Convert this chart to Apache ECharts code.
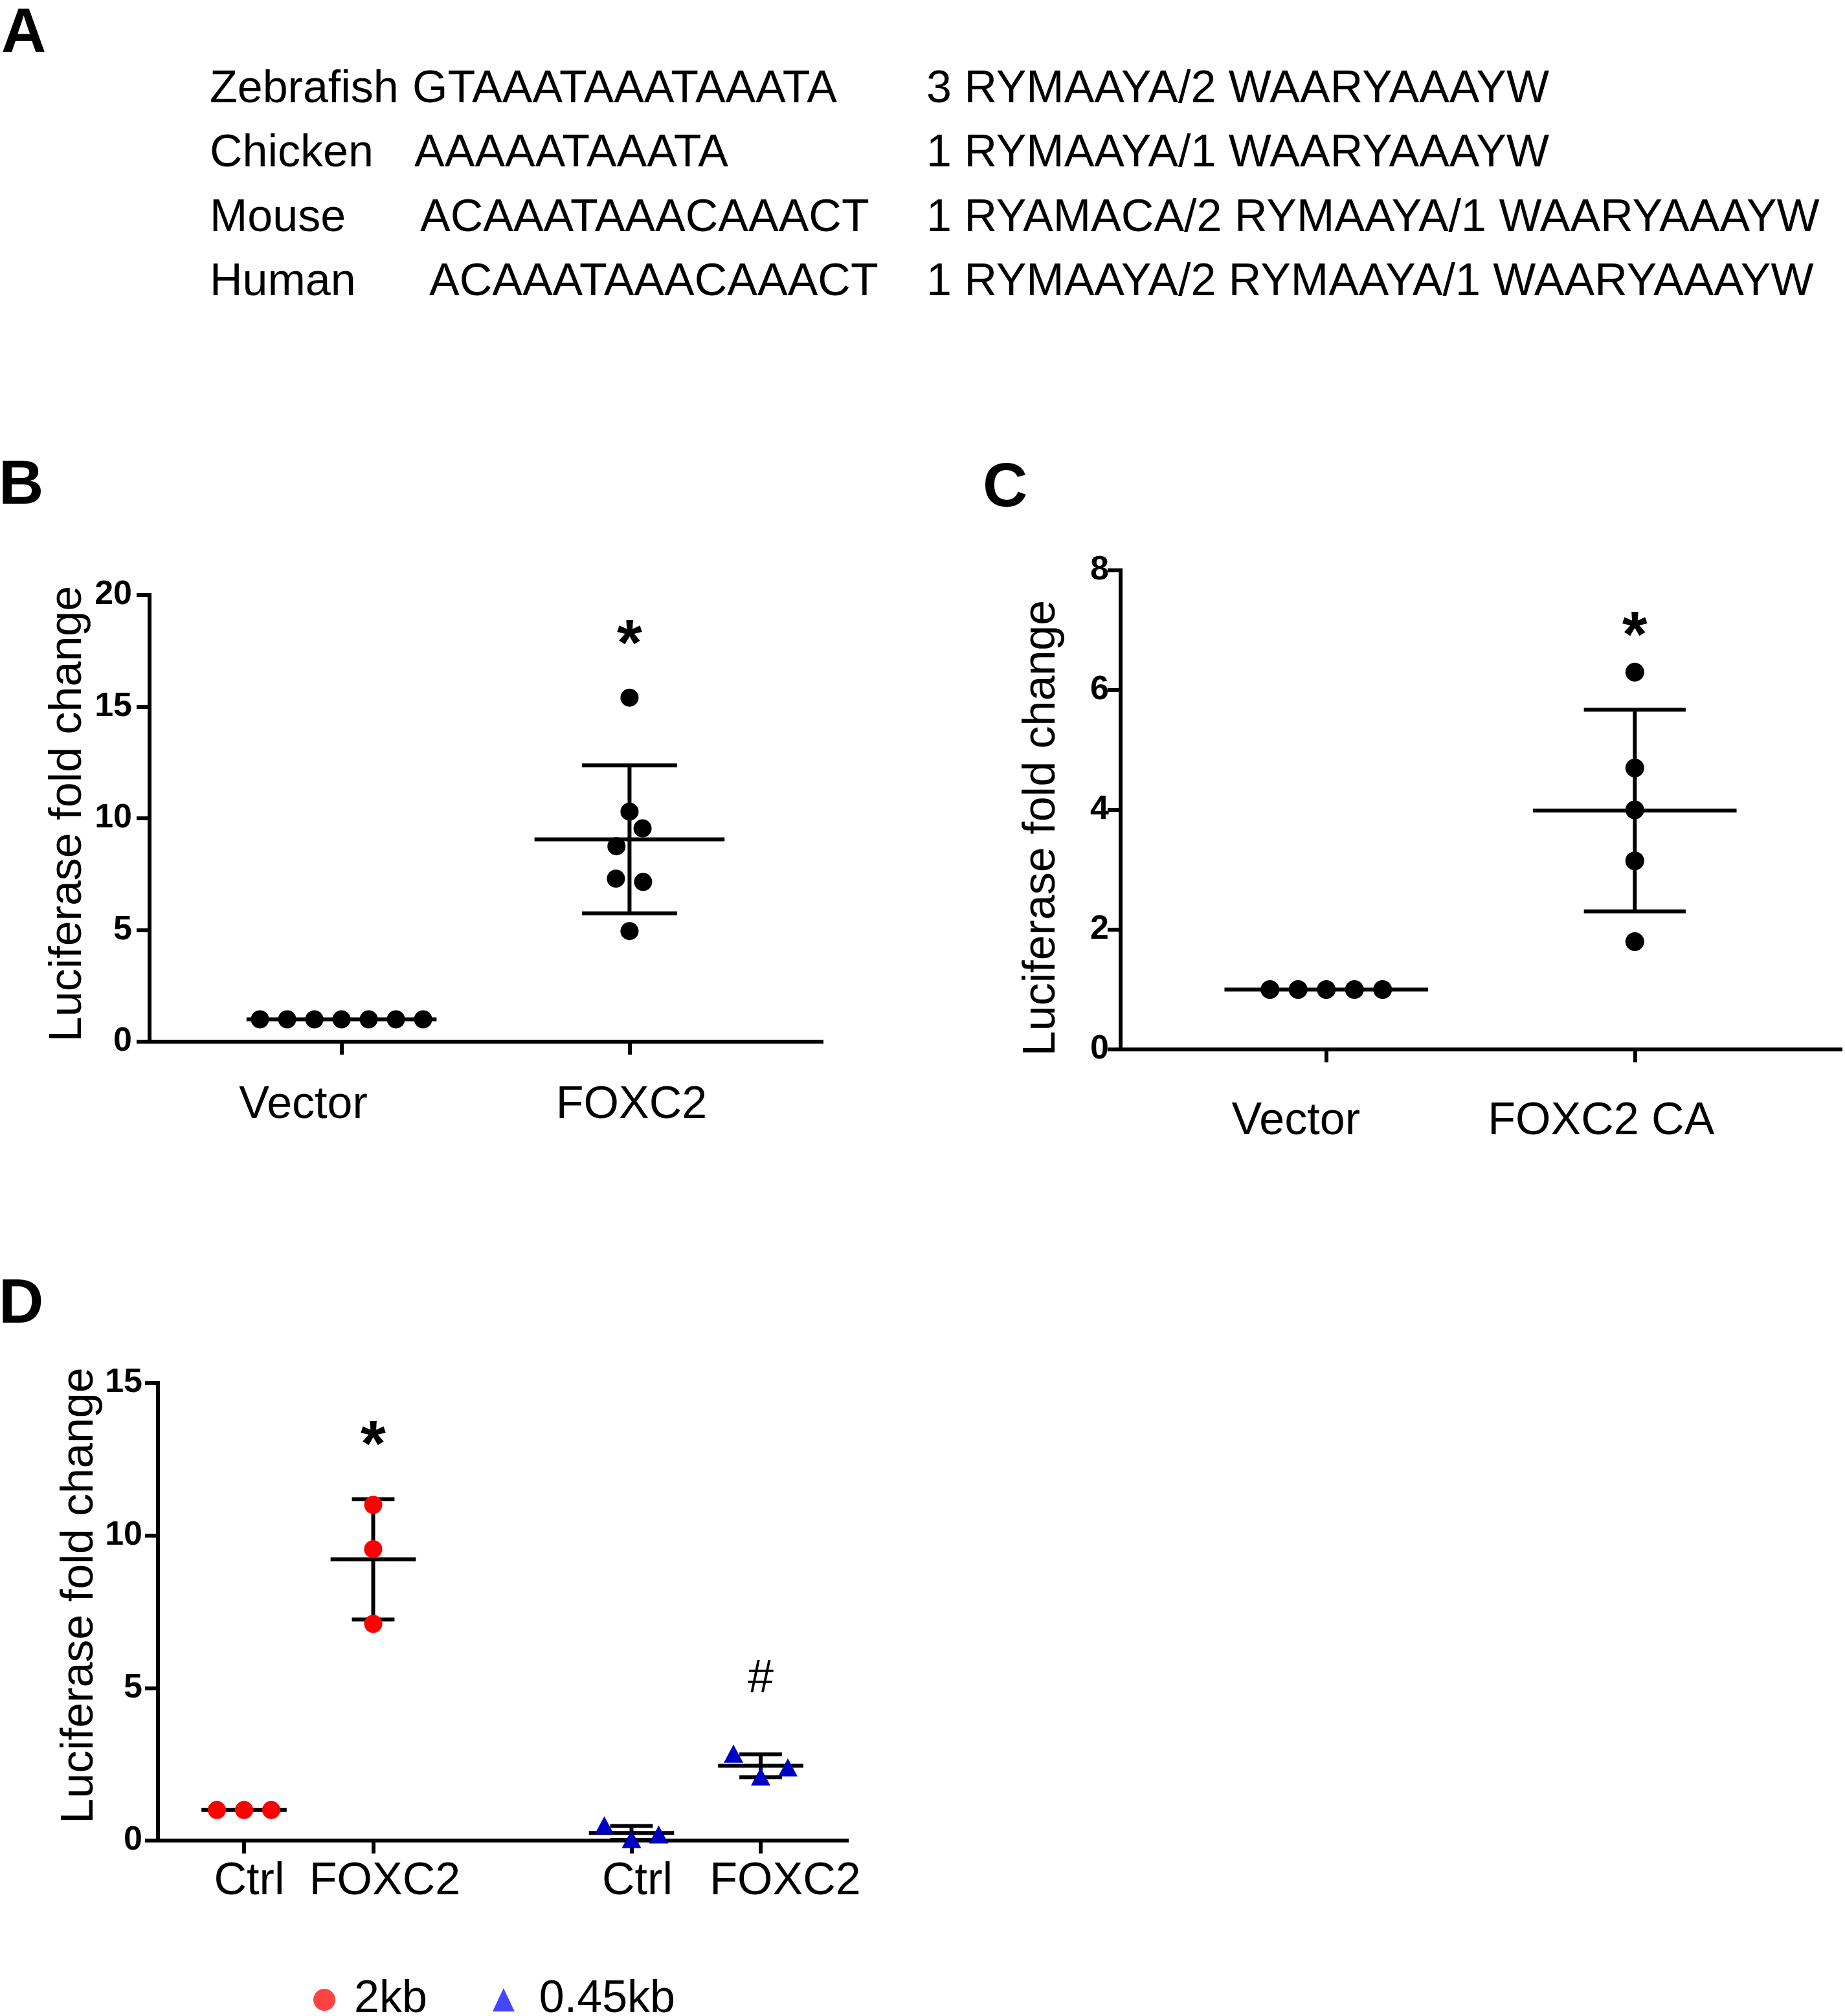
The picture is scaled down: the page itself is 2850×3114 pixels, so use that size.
<!DOCTYPE html>
<html>
<head>
<meta charset="utf-8">
<script src="https://cdn.jsdelivr.net/npm/echarts@6/dist/echarts.min.js"></script>
<style>
  html, body { margin: 0; padding: 0; background: #fff; }
  #chart { width: 2850px; height: 3114px; }
</style>
</head>
<body>
<div id="chart"></div>
<script>
// ---- panel A: sequence table
var seqSpecies = ['Zebrafish', 'Chicken', 'Mouse', 'Human'];
var seqElements = ['GTAAATAAATAAATA', 'AAAAATAAATA', 'ACAAATAAACAAACT', 'ACAAATAAACAAACT'];
var seqMotifs = ['3 RYMAAYA/2 WAARYAAAYW', '1 RYMAAYA/1 WAARYAAAYW',
  '1 RYAMACA/2 RYMAAYA/1 WAARYAAAYW', '1 RYMAAYA/2 RYMAAYA/1 WAARYAAAYW'];

// ---- panel B
var catsB = ['Vector', 'FOXC2'];
var vectorB = [1, 1, 1, 1, 1, 1, 1];
var foxc2B = [15.4, 10.3, 9.55, 8.75, 7.3, 7.15, 4.95];
var ticksB = [0, 5, 10, 15, 20];
var sigB = ['*'];
var sigYB = [17.68];

// ---- panel C
var catsC = ['Vector', 'FOXC2 CA'];
var vectorC = [1, 1, 1, 1, 1];
var foxc2C = [6.3, 4.7, 4.0, 3.15, 1.8];
var ticksC = [0, 2, 4, 6, 8];
var sigC = ['*'];
var sigYC = [6.86];

// ---- panel D
var catsD = ['Ctrl', 'FOXC2', 'Ctrl', 'FOXC2'];
var seriesD = ['2kb', '0.45kb'];
var ctrl2kb = [1, 1, 1];
var foxc2_2kb = [11.0, 9.55, 7.1];
var ctrl045kb = [0.5, 0.05, 0.2];
var foxc2_045kb = [2.85, 2.1, 2.4];
var ticksD = [0, 5, 10, 15];
var sigD = ['*', '#'];
var sigYD = [12.86, 5.28];

// ---- layout / style
var FONT = '"Liberation Sans", Arial, Helvetica, sans-serif';
var BLACK = '#000';
var LW = 6;
var gridB = {left: 231, top: 919, width: 1038, height: 690};
var gridC = {left: 1731, top: 881, width: 1112, height: 740};
var gridD = {left: 244, top: 2136, width: 1064, height: 707};
var slotsB = [0, 1], slotsC = [0, 1], slotsD = [0, 1, 3, 4];

function meanSd(a) {
  var m = a.reduce(function (s, v) { return s + v; }, 0) / a.length;
  var ss = a.reduce(function (s, v) { return s + (v - m) * (v - m); }, 0);
  return [m, a.length > 1 ? Math.sqrt(ss / (a.length - 1)) : 0];
}

// horizontal spread of points (pixels), like a small beeswarm
function swarm(values, size, ppu) {
  var idx = values.map(function (v, i) { return i; })
    .sort(function (a, b) { return values[b] - values[a] || a - b; });
  var clusters = [], cur = [idx[0]];
  for (var k = 1; k < idx.length; k++) {
    if ((values[idx[k - 1]] - values[idx[k]]) * ppu < size * 1.15) cur.push(idx[k]);
    else { clusters.push(cur); cur = [idx[k]]; }
  }
  clusters.push(cur);
  var off = values.map(function () { return 0; });
  clusters.forEach(function (c) {
    c.sort(function (a, b) { return a - b; });
    var vs = c.map(function (i) { return values[i]; });
    var span = (Math.max.apply(null, vs) - Math.min.apply(null, vs)) * ppu;
    if (span < size * 1.4) {
      c.forEach(function (i, j) { off[i] = (j - (c.length - 1) / 2) * size * 1.5; });
    } else {
      var pat = [0, 1, -1, 2, -2, 3, -3];
      c.forEach(function (i, j) { off[i] = pat[j] * size * 0.72; });
    }
  });
  return off;
}

function points(groups, slots, size, grid, ticks) {
  var ppu = grid.height / (ticks[ticks.length - 1] - ticks[0]);
  var out = [];
  groups.forEach(function (vals, g) {
    var off = swarm(vals, size, ppu);
    vals.forEach(function (v, i) {
      out.push({value: [slots[g], v], symbolOffset: [off[i], 0]});
    });
  });
  return out;
}

function errData(groups, slots) {
  return groups.map(function (vals, g) {
    var ms = meanSd(vals);
    return [slots[g], ms[0], ms[0] - ms[1], ms[0] + ms[1]];
  });
}

function errorBarItem(params, api) {
  var x = api.value(0), m = api.value(1), lo = api.value(2), hi = api.value(3);
  var st = {stroke: BLACK, lineWidth: LW};
  function seg(a, b) {
    return {type: 'line', shape: {x1: a[0], y1: a[1], x2: b[0], y2: b[1]}, style: st};
  }
  var kids = [seg(api.coord([x - 0.33, m]), api.coord([x + 0.33, m]))];
  if (hi - lo > 1e-6) {
    kids.push(seg(api.coord([x, lo]), api.coord([x, hi])));
    kids.push(seg(api.coord([x - 0.165, hi]), api.coord([x + 0.165, hi])));
    kids.push(seg(api.coord([x - 0.165, lo]), api.coord([x + 0.165, lo])));
  }
  return {type: 'group', children: kids};
}

function sigSeries(axis, texts, slots, ys) {
  return {
    type: 'custom', xAxisIndex: axis, yAxisIndex: axis, silent: true, clip: false, z: 6,
    data: texts.map(function (t, i) { return [slots[i], ys[i]]; }),
    renderItem: function (params, api) {
      var p = api.coord([api.value(0), api.value(1)]);
      var t = texts[params.dataIndex];
      return {type: 'text', x: p[0], y: p[1], style: {
        text: t, fill: BLACK, align: 'center', verticalAlign: 'middle',
        textAlign: 'center', textVerticalAlign: 'middle',
        font: (t === '*' ? 'bold 100px ' : '72px ') + FONT}};
    }
  };
}

function xAxis(gi, grid, min, max, slots, labels, nudges, margin) {
  var ppu = grid.width / (max - min);
  var labelVals = slots.map(function (s, i) { return s + nudges[i] / ppu; });
  return {
    type: 'value', gridIndex: gi, min: min, max: max,
    splitLine: {show: false},
    axisLine: {show: true, onZero: false, lineStyle: {color: BLACK, width: LW, cap: 'square'}},
    axisTick: {show: true, customValues: slots, length: 20, lineStyle: {color: BLACK, width: LW}},
    axisLabel: {
      show: true, customValues: labelVals, margin: margin,
      fontSize: 70, fontFamily: FONT, color: BLACK,
      formatter: function (v) {
        var best = 0;
        labelVals.forEach(function (lv, i) {
          if (Math.abs(lv - v) < Math.abs(labelVals[best] - v)) best = i;
        });
        return labels[best];
      }
    }
  };
}

// pad shifts the rotated title along the axis (left pad = up, right pad = down)
function yAxis(gi, ticks, nameGap, margin, pad) {
  return {
    type: 'value', gridIndex: gi,
    min: ticks[0], max: ticks[ticks.length - 1], interval: ticks[1] - ticks[0],
    name: 'Luciferase fold change', nameLocation: 'middle', nameRotate: 90, nameGap: nameGap,
    nameTextStyle: {fontSize: 70, fontFamily: FONT, color: BLACK, padding: pad},
    splitLine: {show: false},
    axisLine: {show: true, onZero: false, lineStyle: {color: BLACK, width: LW, cap: 'square'}},
    axisTick: {show: true, length: 20, lineStyle: {color: BLACK, width: LW}},
    axisLabel: {fontSize: 52, fontWeight: 'bold', fontFamily: FONT, color: BLACK, margin: margin}
  };
}

var graphics = [];
function letter(t, x, y) {
  graphics.push({type: 'text', x: x, y: y, style: {
    text: t, fill: BLACK, font: 'bold 96px ' + FONT,
    align: 'left', verticalAlign: 'middle', textAlign: 'left', textVerticalAlign: 'middle'}});
}
letter('A', 2, 54); letter('B', -2, 752); letter('C', 1518, 756); letter('D', -2, 2017);

var rowY = [139, 238, 338, 437];
var elemX = [637, 640, 649, 663];
seqSpecies.forEach(function (s, i) {
  [[324, s], [elemX[i], seqElements[i]], [1431, seqMotifs[i]]].forEach(function (c) {
    graphics.push({type: 'text', x: c[0], y: rowY[i], style: {
      text: c[1], fill: BLACK, font: '70px ' + FONT,
      align: 'left', verticalAlign: 'middle', textAlign: 'left', textVerticalAlign: 'middle'}});
  });
});

var chart = echarts.init(document.getElementById('chart'));
chart.setOption({
  animation: false,
  backgroundColor: '#fff',
  grid: [gridB, gridC, gridD],
  xAxis: [
    xAxis(0, gridB, -2 / 3, 5 / 3, slotsB, catsB, [-59, 3], 64),
    xAxis(1, gridC, -2 / 3, 5 / 3, slotsC, catsC, [-47, -52], 77),
    xAxis(2, gridD, -2 / 3, 14 / 3, slotsD, catsD, [8, 18, 9, 38], 29)
  ],
  yAxis: [
    yAxis(0, ticksB, 90, 27, [0, 0, 0, 14]),
    yAxis(1, ticksC, 86, 18, [0, 56, 0, 0]),
    yAxis(2, ticksD, 66, 24, [0, 0, 0, 50])
  ],
  legend: {
    data: [
      {name: seriesD[0], icon: 'circle', itemStyle: {color: '#ff4242'}, textStyle: {padding: [0, 0, 0, 24]}},
      {name: seriesD[1], icon: 'triangle', itemStyle: {color: '#4646ff'}, textStyle: {padding: [0, 0, 0, 33]}}
    ],
    left: 479, top: 3049, itemWidth: 34, itemHeight: 36, itemGap: 101,
    selectedMode: false,
    textStyle: {fontSize: 70, fontFamily: FONT, color: BLACK}
  },
  graphic: graphics,
  series: [
    {type: 'custom', name: 'errB', xAxisIndex: 0, yAxisIndex: 0, z: 3, silent: true, clip: false,
      renderItem: errorBarItem, data: errData([vectorB, foxc2B], slotsB)},
    {type: 'scatter', name: 'pointsB', xAxisIndex: 0, yAxisIndex: 0, z: 5, silent: true,
      symbol: 'circle', symbolSize: 28, itemStyle: {color: BLACK, opacity: 1},
      data: points([vectorB, foxc2B], slotsB, 28, gridB, ticksB)},
    sigSeries(0, sigB, [1], sigYB),

    {type: 'custom', name: 'errC', xAxisIndex: 1, yAxisIndex: 1, z: 3, silent: true, clip: false,
      renderItem: errorBarItem, data: errData([vectorC, foxc2C], slotsC)},
    {type: 'scatter', name: 'pointsC', xAxisIndex: 1, yAxisIndex: 1, z: 5, silent: true,
      symbol: 'circle', symbolSize: 29, itemStyle: {color: BLACK, opacity: 1},
      data: points([vectorC, foxc2C], slotsC, 29, gridC, ticksC)},
    sigSeries(1, sigC, [1], sigYC),

    {type: 'custom', name: 'errD', xAxisIndex: 2, yAxisIndex: 2, z: 3, silent: true, clip: false,
      renderItem: errorBarItem, data: errData([ctrl2kb, foxc2_2kb, ctrl045kb, foxc2_045kb], slotsD)},
    {type: 'scatter', name: seriesD[0], xAxisIndex: 2, yAxisIndex: 2, z: 5, silent: true,
      symbol: 'circle', symbolSize: 28, itemStyle: {color: '#ff0000', opacity: 1},
      data: points([ctrl2kb, foxc2_2kb], [0, 1], 28, gridD, ticksD)},
    {type: 'scatter', name: seriesD[1], xAxisIndex: 2, yAxisIndex: 2, z: 5, silent: true,
      symbol: 'triangle', symbolSize: [30, 28], itemStyle: {color: '#0000c0', opacity: 1},
      data: points([ctrl045kb, foxc2_045kb], [3, 4], 28, gridD, ticksD)},
    sigSeries(2, sigD, [1, 4], sigYD)
  ]
});
</script>
</body>
</html>
